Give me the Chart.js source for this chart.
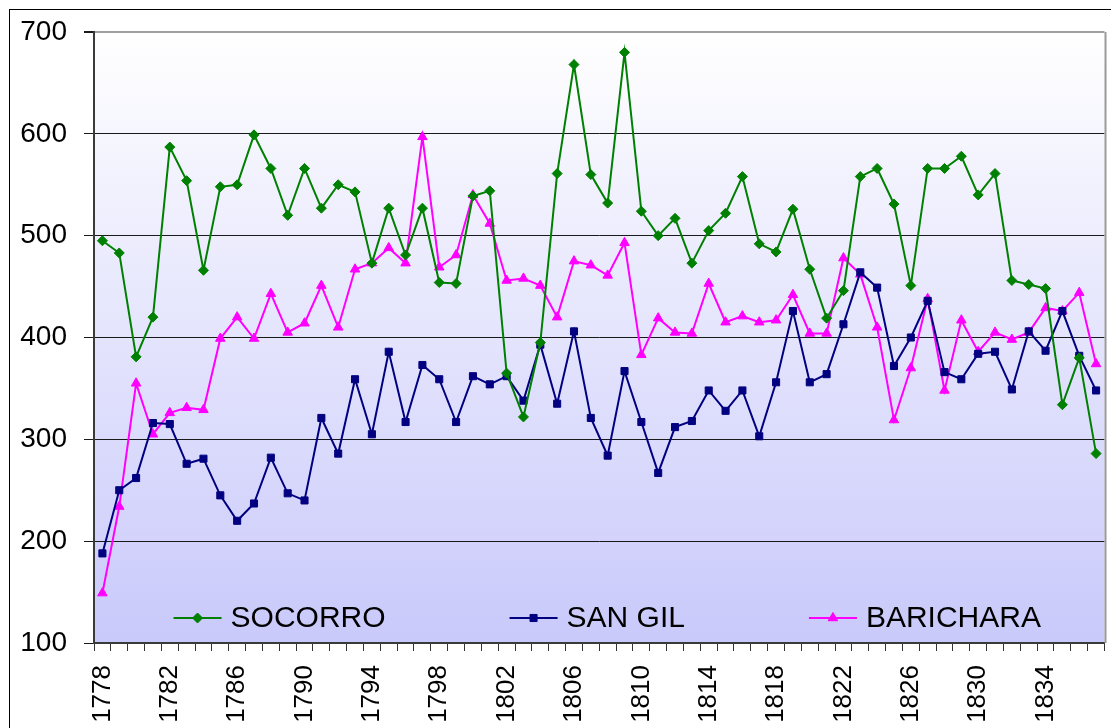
<!DOCTYPE html>
<html>
<head>
<meta charset="utf-8">
<script src="https://cdn.jsdelivr.net/npm/chart.js@4/dist/chart.umd.min.js"></script>
<style>
  body { margin: 0; background: #fff; }
</style>
</head>
<body>
<canvas id="grafico" width="1111" height="728"></canvas>
<script>
// años de la serie (uno por categoría)
const anios = [1778, 1779, 1780, 1781, 1782, 1783, 1784, 1785, 1786, 1787,
               1788, 1789, 1790, 1791, 1792, 1793, 1794, 1795, 1796, 1797,
               1798, 1799, 1800, 1801, 1802, 1803, 1804, 1805, 1806, 1807,
               1808, 1809, 1810, 1811, 1812, 1813, 1814, 1815, 1816, 1817,
               1818, 1819, 1820, 1821, 1822, 1823, 1824, 1825, 1826, 1827,
               1828, 1829, 1830, 1831, 1832, 1833, 1834, 1835, 1836, 1837];

// años que llevan etiqueta en el eje
const aniosVisibles = [1778, 1782, 1786, 1790, 1794, 1798, 1802, 1806, 1810,
                       1814, 1818, 1822, 1826, 1830, 1834];

const socorro = [495, 483, 381, 420, 587, 554, 466, 548, 550, 599,
                 566, 520, 566, 527, 550, 543, 473, 527, 481, 527,
                 454, 453, 539, 544, 365, 322, 395, 561, 668, 560,
                 532, 680, 524, 500, 517, 473, 505, 522, 558, 492,
                 484, 526, 467, 419, 446, 558, 566, 531, 451, 566,
                 566, 578, 540, 561, 456, 452, 448, 334, 380, 286];

const sanGil = [188, 250, 262, 316, 315, 276, 281, 245, 220, 237,
                282, 247, 240, 321, 286, 359, 305, 386, 317, 373,
                359, 317, 362, 354, 362, 338, 393, 335, 406, 321,
                284, 367, 317, 267, 312, 318, 348, 328, 348, 303,
                356, 426, 356, 364, 413, 464, 449, 372, 400, 436,
                366, 359, 384, 386, 349, 406, 387, 426, 382, 348];

const barichara = [149, 234, 355, 305, 326, 331, 329, 399, 420, 399,
                   443, 405, 414, 451, 410, 467, 473, 488, 473, 597,
                   469, 481, 540, 512, 456, 458, 451, 420, 475, 471,
                   461, 493, 383, 419, 405, 404, 453, 415, 421, 415,
                   417, 442, 404, 404, 478, 462, 410, 319, 370, 438,
                   348, 417, 386, 405, 398, 405, 429, 426, 444, 374];

const fuente = 'Liberation Sans, Arial, sans-serif';

// fondo degradado del área de trazado y marco exterior
const fondo = {
  id: 'fondo',
  beforeDraw(chart) {
    const { ctx, chartArea: a } = chart;
    ctx.save();
    ctx.fillStyle = '#ffffff';
    ctx.fillRect(0, 0, chart.width, chart.height);
    const g = ctx.createLinearGradient(0, a.top, 0, a.bottom);
    g.addColorStop(0, '#ffffff');
    g.addColorStop(1, '#c9c9fb');
    ctx.fillStyle = g;
    ctx.fillRect(a.left, a.top, a.right - a.left, a.bottom - a.top);
    ctx.strokeStyle = '#000';
    ctx.lineWidth = 1;
    ctx.strokeRect(9.5, 9.5, chart.width + 20, chart.height + 20);
    ctx.restore();
  }
};

// leyenda dentro del gráfico: línea + marcador + texto
const leyenda = {
  id: 'leyenda',
  afterDraw(chart) {
    const { ctx, chartArea: a } = chart;
    ctx.save();
    // borde derecho gris
    ctx.strokeStyle = '#9a9a9a';
    ctx.lineWidth = 2;
    ctx.beginPath();
    ctx.moveTo(a.right + 1, a.top);
    ctx.lineTo(a.right + 1, a.bottom);
    ctx.stroke();

    ctx.font = '30px ' + fuente;
    const largo = 48, sep = 9, hueco = 124;
    const items = chart.data.datasets.map(d => ({
      d, ancho: largo + sep + ctx.measureText(d.label).width
    }));
    const total = items.reduce((s, it) => s + it.ancho, 0) + hueco * (items.length - 1);
    let x = (a.left + a.right) / 2 + 8 - total / 2;
    const y = 618;
    items.forEach(it => {
      const d = it.d;
      ctx.strokeStyle = d.borderColor;
      ctx.lineWidth = 2;
      ctx.beginPath();
      ctx.moveTo(x, y);
      ctx.lineTo(x + largo, y);
      ctx.stroke();
      ctx.fillStyle = d.pointBackgroundColor;
      ctx.strokeStyle = d.borderColor;
      ctx.lineWidth = 1;
      Chart.helpers.drawPoint(ctx, {
        pointStyle: d.pointStyle, radius: d.pointRadius, rotation: 0, borderWidth: 1
      }, x + largo / 2, y);
      ctx.fillStyle = '#000';
      ctx.textBaseline = 'middle';
      ctx.textAlign = 'left';
      ctx.fillText(d.label, x + largo + sep, y + 1);
      x += it.ancho + hueco;
    });
    ctx.restore();
  }
};

function serie(nombre, datos, color, estilo, radio) {
  return {
    label: nombre,
    data: datos,
    borderColor: color,
    backgroundColor: color,
    pointBackgroundColor: color,
    pointBorderColor: color,
    pointStyle: estilo,
    pointRadius: radio,
    pointBorderWidth: 1,
    borderWidth: 2,
    tension: 0
  };
}

new Chart(document.getElementById('grafico'), {
  type: 'line',
  data: {
    labels: anios,
    datasets: [
      serie('SOCORRO', socorro, '#008000', 'rectRot', 5),
      serie('SAN GIL', sanGil, '#000080', 'rect', 5),
      serie('BARICHARA', barichara, '#ff00ff', 'triangle', 5.5)
    ]
  },
  options: {
    responsive: false,
    animation: false,
    layout: { padding: { top: 32, right: 0, left: 0, bottom: 0 } },
    plugins: {
      legend: { display: false },
      tooltip: { enabled: false }
    },
    scales: {
      x: {
        offset: true,
        afterFit(s) {
          s.height = 85;
          s.paddingLeft = 0;
          s.paddingRight = 0;
        },
        grid: {
          offset: true,
          drawOnChartArea: false,
          drawTicks: true,
          tickLength: 8,
          color: '#333'
        },
        border: { color: '#3a3a3a', width: 2 },
        ticks: {
          autoSkip: false,
          minRotation: 90,
          maxRotation: 90,
          padding: 14,
          color: '#000',
          font: { family: fuente, size: 26 },
          callback(v) {
            const a = anios[v];
            return aniosVisibles.includes(a) ? String(a) : '';
          }
        }
      },
      y: {
        min: 100,
        max: 700,
        afterFit(s) {
          s.width = 94;
          s.paddingTop = 0;
          s.paddingBottom = 0;
        },
        grid: {
          color: c => (c.tick && c.tick.value === 700) ? '#a0a0a0' : '#1a1a1a',
          lineWidth: c => (c.tick && c.tick.value === 700) ? 2 : 1,
          tickLength: 10,
          tickColor: '#1a1a1a'
        },
        border: { color: '#3a3a3a', width: 2 },
        ticks: {
          stepSize: 100,
          padding: 17,
          color: '#000',
          font: { family: fuente, size: 28 }
        }
      }
    }
  },
  plugins: [fondo, leyenda]
});
</script>
</body>
</html>
